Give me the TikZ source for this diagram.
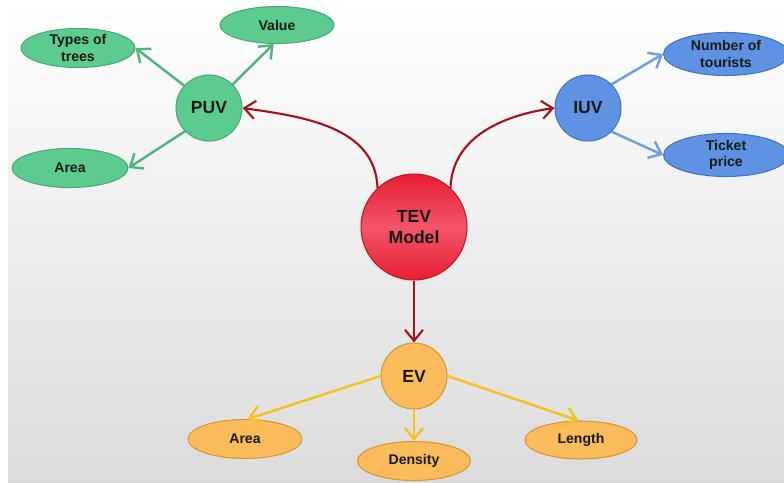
\documentclass[tikz,border=0pt]{standalone}
\usepackage{fontspec}
\setmainfont{Liberation Sans}
\usetikzlibrary{shapes.geometric, arrows.meta, calc, positioning}
\definecolor{puvgreen}{RGB}{92,203,143}
\definecolor{puvedge}{RGB}{70,170,115}
\definecolor{iuvblue}{RGB}{95,146,226}
\definecolor{iuvedge}{RGB}{70,115,190}
\definecolor{evorange}{RGB}{250,187,90}
\definecolor{evedge}{RGB}{215,150,60}
\definecolor{tevred}{RGB}{232,30,50}
\definecolor{tevpink}{RGB}{242,85,105}
\definecolor{darkred}{RGB}{160,20,28}
\definecolor{greenline}{RGB}{80,180,125}
\definecolor{blueline}{RGB}{110,160,225}
\definecolor{yellowline}{RGB}{245,195,30}
\definecolor{labeltext}{RGB}{25,25,25}
\tikzstyle{hub} = [circle, draw, line width=0.6pt, font=\fontsize{10}{11}\selectfont\bfseries, text=labeltext, align=center, minimum size=1.32cm, inner sep=0pt]
\tikzstyle{leaf} = [ellipse, draw, line width=0.6pt, font=\fontsize{8}{9.2}\selectfont\bfseries, text=labeltext, align=center, inner xsep=0pt, inner ysep=-3pt]
\tikzstyle{core} = [circle, draw=tevred!80!black, line width=0.6pt, top color=tevred, bottom color=tevred, middle color=tevpink, font=\fontsize{10}{12}\selectfont\bfseries, text=labeltext, align=center, minimum size=2.12cm, inner sep=0pt]
\tikzstyle{line} = [draw, -{Straight Barb[length=2.2mm, width=3.6mm]}, line width=1.4pt]

\begin{document}
\begin{tikzpicture}[x=0.02cm, y=-0.02cm]
        \useasboundingbox (0,0) rectangle (784,483);
        \shade[top color=white, bottom color=black!14, draw=none] (8,0) rectangle (784,483);

        \node[core] (04) at (414,227) {TEV\\Model};

        \node[hub, fill=puvgreen, draw=puvedge] (01) at (209,108) {PUV};
        \node[leaf, fill=puvgreen, draw=puvedge, minimum width=2.28cm, minimum height=0.78cm] (00) at (78,48) {Types of\\trees};
        \node[leaf, fill=puvgreen, draw=puvedge, minimum width=2.28cm, minimum height=0.74cm] (02) at (277,25) {Value};
        \node[leaf, fill=puvgreen, draw=puvedge, minimum width=2.32cm, minimum height=0.78cm] (03) at (70,168) {Area};
        \path[line, greenline] (01.138) -- (00.east);
        \path[line, greenline] (01.45) -- (02.-100);
        \path[line, greenline] (01.224) -- (03.east);

        \node[hub, fill=iuvblue, draw=iuvedge] (05) at (588,108) {IUV};
        \node[leaf, fill=iuvblue, draw=iuvedge, minimum width=2.5cm, minimum height=0.86cm] (06) at (726,54) {Number of\\tourists};
        \node[leaf, fill=iuvblue, draw=iuvedge, minimum width=2.5cm, minimum height=0.86cm] (07) at (726,155) {Ticket\\price};
        \path[line, blueline] (05.45) -- (06.west);
        \path[line, blueline] (05.-45) -- (07.west);

        \node[hub, fill=evorange, draw=evedge] (08) at (414,376) {EV};
        \node[leaf, fill=evorange, draw=evedge, minimum width=2.28cm, minimum height=0.78cm] (09) at (245,439) {Area};
        \node[leaf, fill=evorange, draw=evedge, minimum width=2.26cm, minimum height=0.78cm] (10) at (414,461) {Density};
        \node[leaf, fill=evorange, draw=evedge, minimum width=2.24cm, minimum height=0.76cm] (11) at (581,440) {Length};
        \path[line, yellowline] (08.west) -- (09.82);
        \path[line, yellowline] (08) -- (10);
        \path[line, yellowline] (08.east) -- (11.98);

        \path[line, darkred, line width=1.2pt] (04.133) to[out=92, in=-8] (01.east);
        \path[line, darkred, line width=1.2pt] (04.47) to[out=88, in=188] (05.west);
        \path[line, darkred, line width=1.2pt] (04) -- (08);
    \end{tikzpicture}
\end{document}
